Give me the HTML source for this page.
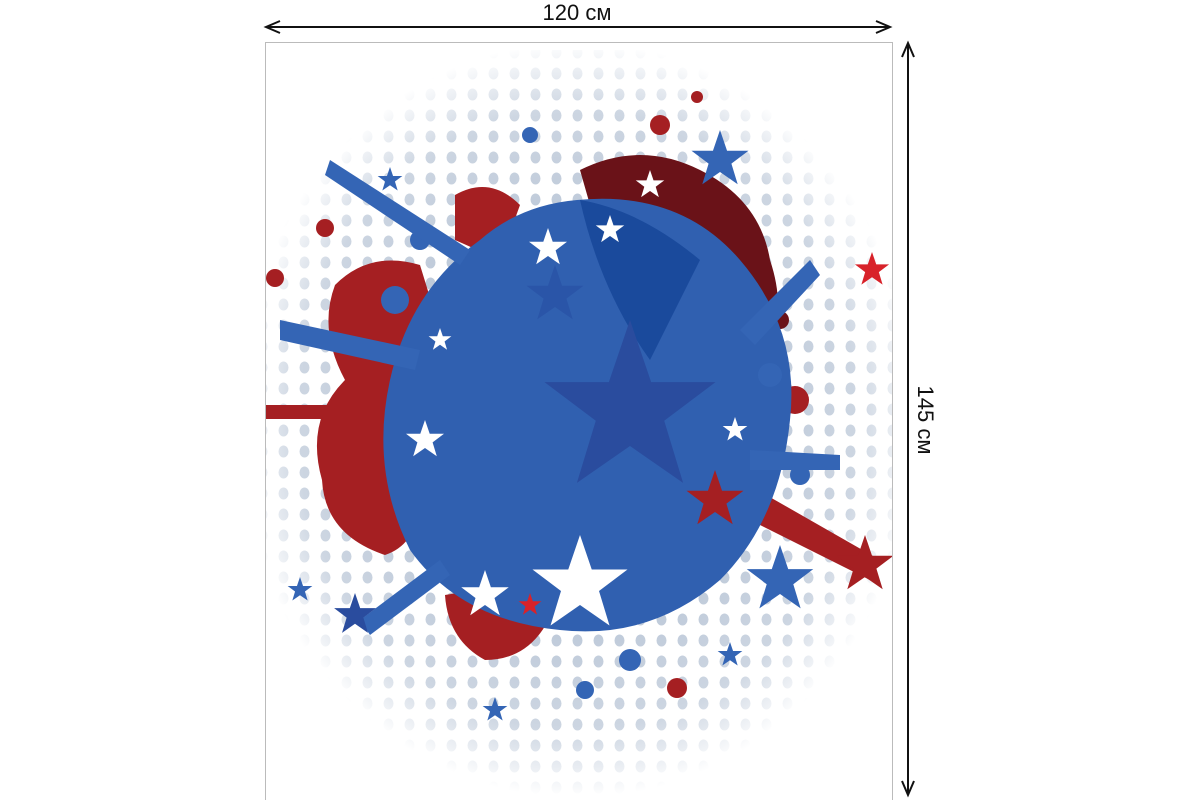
<!DOCTYPE html>
<html><head><meta charset="utf-8"><style>
html,body{margin:0;padding:0;background:#fff;width:1200px;height:800px;overflow:hidden}
svg{display:block}
</style></head><body>
<svg width="1200" height="800" viewBox="0 0 1200 800" xmlns="http://www.w3.org/2000/svg">
<defs>
<pattern id="dots" width="21" height="21" patternUnits="userSpaceOnUse">
<ellipse cx="10.5" cy="10.5" rx="5" ry="6" fill="#bcc8d8"/>
</pattern>
<radialGradient id="fade" cx="577" cy="420" r="360" gradientUnits="userSpaceOnUse" gradientTransform="translate(577 420) scale(0.95 1.05) translate(-577 -420)">
<stop offset="0.5" stop-color="#fff"/><stop offset="0.82" stop-color="#fff" stop-opacity="0.75"/><stop offset="1" stop-color="#fff" stop-opacity="0"/>
</radialGradient>
<mask id="m"><rect x="0" y="0" width="1200" height="800" fill="url(#fade)"/></mask>
<clipPath id="frame"><rect x="266" y="43" width="626" height="757"/></clipPath>
<polygon id="st" points="0,-10 2.35,-3.1 9.5,-3.1 3.8,1.2 5.9,8.1 0,4 -5.9,8.1 -3.8,1.2 -9.5,-3.1 -2.35,-3.1"/>
</defs>
<text x="577" y="20" font-family="Liberation Sans, sans-serif" font-size="22" text-anchor="middle" fill="#111">120 см</text>
<line x1="268" y1="27" x2="888" y2="27" stroke="#111" stroke-width="2"/>
<polyline points="280,21 266,27 280,33" fill="none" stroke="#111" stroke-width="2"/>
<polyline points="876,21 890,27 876,33" fill="none" stroke="#111" stroke-width="2"/>
<line x1="908" y1="45" x2="908" y2="793" stroke="#111" stroke-width="2"/>
<polyline points="902,57 908,43 914,57" fill="none" stroke="#111" stroke-width="2"/>
<polyline points="902,781 908,795 914,781" fill="none" stroke="#111" stroke-width="2"/>
<text transform="translate(918,420) rotate(90)" font-family="Liberation Sans, sans-serif" font-size="22" text-anchor="middle" fill="#111">145 см</text>
<rect x="265.5" y="42.5" width="627" height="760" fill="#fff" stroke="#bbb"/>
<g clip-path="url(#frame)">
<rect x="230" y="50" width="700" height="750" fill="url(#dots)" mask="url(#m)"/>
<path d="M335,285 Q370,250 420,265 L440,330 Q400,380 420,460 Q430,540 385,555 Q325,535 322,480 Q305,420 345,380 Q318,330 335,285Z" fill="#a51f22"/>
<path d="M445,595 Q500,585 555,605 Q535,660 485,660 Q448,640 445,595Z" fill="#a51f22"/>
<rect x="266" y="405" width="120" height="14" fill="#a51f22"/>
<path d="M455,195 Q490,175 520,205 L500,260 L455,240Z" fill="#a51f22"/>
<circle cx="325" cy="228" r="9" fill="#a51f22"/>
<circle cx="275" cy="278" r="9" fill="#a51f22"/>
<path d="M580,170 Q640,140 700,170 Q760,200 770,260 Q790,320 760,360 L700,300 Q640,260 600,240Z" fill="#6a1218"/>
<path d="M740,480 L880,560 L870,580 L730,510Z" fill="#a51f22"/>
<circle cx="795" cy="400" r="14" fill="#a51f22"/>
<circle cx="660" cy="125" r="10" fill="#a51f22"/>
<circle cx="677" cy="688" r="10" fill="#a51f22"/>
<circle cx="697" cy="97" r="6" fill="#a51f22"/>
<circle cx="780" cy="320" r="9" fill="#6a1218"/>
<path d="M577,200 Q680,190 740,260 Q800,330 790,420 Q780,520 720,580 Q650,640 560,630 Q460,620 410,550 Q370,470 390,380 Q410,290 480,240 Q520,205 577,200Z" fill="#3060b0"/>
<circle cx="395" cy="300" r="14" fill="#3465b5"/>
<circle cx="420" cy="240" r="10" fill="#3465b5"/>
<circle cx="770" cy="375" r="12" fill="#3465b5"/>
<circle cx="630" cy="660" r="11" fill="#3465b5"/>
<circle cx="585" cy="690" r="9" fill="#3465b5"/>
<circle cx="530" cy="135" r="8" fill="#3465b5"/>
<circle cx="800" cy="475" r="10" fill="#3465b5"/>
<path d="M330,160 L470,250 L460,265 L325,175Z" fill="#3465b5"/>
<path d="M280,320 L420,350 L415,370 L280,340Z" fill="#3465b5"/>
<path d="M740,330 L810,260 L820,275 L755,345Z" fill="#3465b5"/>
<path d="M750,450 L840,455 L840,470 L750,470Z" fill="#3465b5"/>
<path d="M360,620 L440,560 L450,575 L370,635Z" fill="#3465b5"/>
<path d="M580,200 Q640,210 700,260 L650,360 Q600,290 580,200Z" fill="#1a4a9c"/>
<use href="#st" transform="translate(630,410) scale(9)" fill="#2a4c9e"/>
<use href="#st" transform="translate(555,295) scale(3)" fill="#2a55a8"/>
<use href="#st" transform="translate(580,585) scale(5)" fill="#fff"/>
<use href="#st" transform="translate(485,595) scale(2.5)" fill="#fff"/>
<use href="#st" transform="translate(425,440) scale(2)" fill="#fff"/>
<use href="#st" transform="translate(548,248) scale(2)" fill="#fff"/>
<use href="#st" transform="translate(610,230) scale(1.5)" fill="#fff"/>
<use href="#st" transform="translate(650,185) scale(1.5)" fill="#fff"/>
<use href="#st" transform="translate(735,430) scale(1.3)" fill="#fff"/>
<use href="#st" transform="translate(440,340) scale(1.2)" fill="#fff"/>
<use href="#st" transform="translate(720,160) scale(3)" fill="#3465b5"/>
<use href="#st" transform="translate(780,580) scale(3.5)" fill="#3465b5"/>
<use href="#st" transform="translate(355,615) scale(2.2)" fill="#2a4c9e"/>
<use href="#st" transform="translate(715,500) scale(3)" fill="#a51f22"/>
<use href="#st" transform="translate(865,565) scale(3)" fill="#a51f22"/>
<use href="#st" transform="translate(872,270) scale(1.8)" fill="#d8222a"/>
<use href="#st" transform="translate(390,180) scale(1.3)" fill="#3465b5"/>
<use href="#st" transform="translate(300,590) scale(1.3)" fill="#3465b5"/>
<use href="#st" transform="translate(495,710) scale(1.3)" fill="#3465b5"/>
<use href="#st" transform="translate(730,655) scale(1.3)" fill="#3465b5"/>
<use href="#st" transform="translate(530,605) scale(1.2)" fill="#d8222a"/>
</g>
</svg>
</body></html>
